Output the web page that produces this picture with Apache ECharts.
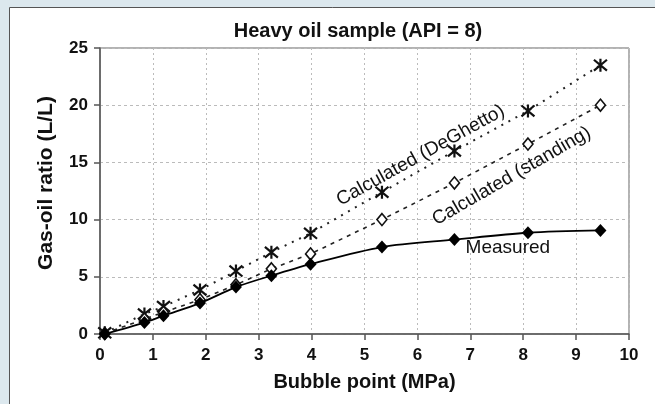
<!DOCTYPE html>
<html>
<head>
<meta charset="utf-8">
<script src="https://cdn.jsdelivr.net/npm/echarts@6/dist/echarts.min.js"></script>
<style>
html,body{margin:0;padding:0;background:#dce8ee;}
#chart{width:655px;height:404px;}
</style>
</head>
<body>
<div id="chart"></div>
<script>
// ---- data ----
const titleText = 'Heavy oil sample (API = 8)';
const xAxisName = 'Bubble point (MPa)';
const yAxisName = 'Gas-oil ratio (L/L)';
const xTicks = [0, 10, 1];   // min, max, interval
const yTicks = [0, 25, 5];

const measuredX = [0.09, 0.84, 1.2, 1.89, 2.57, 3.24, 3.98, 5.33, 6.70, 8.09, 9.46];
const measuredY = [0.0, 1.0, 1.6, 2.7, 4.1, 5.1, 6.1, 7.6, 8.25, 8.85, 9.05];

const standingX = [0.09, 0.84, 1.2, 1.89, 2.57, 3.24, 3.98, 5.33, 6.70, 8.09, 9.46];
const standingY = [0.05, 1.3, 1.9, 3.0, 4.3, 5.7, 7.0, 10.0, 13.2, 16.6, 20.0];

const deghettoX = [0.09, 0.84, 1.2, 1.89, 2.57, 3.24, 3.98, 5.33, 6.70, 8.09, 9.46];
const deghettoY = [0.1, 1.75, 2.4, 3.85, 5.5, 7.15, 8.8, 12.4, 16.0, 19.5, 23.5];

const labelTexts = ['Calculated (DeGhetto)', 'Calculated (standing)', 'Measured'];
const labelX = [6.06, 7.78, 7.71];
const labelY = [15.6, 13.8, 7.5];
const labelAngle = [29, 30, 0];

const FONT = '"Liberation Sans", Arial, Helvetica, sans-serif';
const zip = (a, b) => a.map((v, i) => [v, b[i]]);

const chart = echarts.init(document.getElementById('chart'), null, {renderer: 'canvas'});
const starPath = 'path://M0,0L10,10M10,0L0,10M5,-1L5,11';

const option = {
  backgroundColor: '#dce8ee',
  animation: false,
  title: {
    text: titleText,
    left: 353, top: 16, textAlign: 'center',
    textStyle: {fontFamily: FONT, fontWeight: 'bold', fontSize: 20, color: '#111'}
  },
  grid: {left: 100, right: 26, top: 48, bottom: 70, show: true, borderColor: '#666', borderWidth: 1, backgroundColor: '#fff'},
  xAxis: {
    type: 'value', min: xTicks[0], max: xTicks[1], interval: xTicks[2],
    name: xAxisName, nameLocation: 'middle', nameGap: 38,
    nameTextStyle: {fontFamily: FONT, fontWeight: 'bold', fontSize: 20, color: '#111'},
    axisLine: {lineStyle: {color: '#555', width: 1.5}},
    axisTick: {show: true, inside: false, length: 6, lineStyle: {color: '#555', width: 1.5}},
    axisLabel: {margin: 13, fontFamily: FONT, fontWeight: 'bold', fontSize: 17, color: '#111'},
    splitLine: {show: true, lineStyle: {color: '#bbb', type: [2, 3], width: 1}}
  },
  yAxis: {
    type: 'value', min: yTicks[0], max: yTicks[1], interval: yTicks[2],
    name: yAxisName, nameLocation: 'middle', nameGap: 43,
    nameTextStyle: {fontFamily: FONT, fontWeight: 'bold', fontSize: 21, color: '#111', padding: [0, 0, 0, 16]},
    axisLine: {show: true, lineStyle: {color: '#555', width: 1.5}},
    axisTick: {show: true, inside: false, length: 6, lineStyle: {color: '#555', width: 1.5}},
    axisLabel: {margin: 12, fontFamily: FONT, fontWeight: 'bold', fontSize: 17, color: '#111'},
    splitLine: {show: true, lineStyle: {color: '#bbb', type: [3, 3], width: 1}}
  },
  series: [
    {
      name: 'Calculated (DeGhetto)', type: 'line', data: zip(deghettoX, deghettoY),
      symbol: starPath, symbolSize: 13,
      itemStyle: {color: 'transparent', borderColor: '#111', borderWidth: 2.2},
      lineStyle: {color: '#222', width: 2, type: [2, 6]}, z: 3
    },
    {
      name: 'Calculated (standing)', type: 'line', data: zip(standingX, standingY),
      symbol: 'diamond', symbolSize: [10, 12],
      itemStyle: {color: '#fff', borderColor: '#111', borderWidth: 1.6},
      lineStyle: {color: '#222', width: 1.6, type: [4, 5]}, z: 4
    },
    {
      name: 'Measured', type: 'line', data: zip(measuredX, measuredY),
      smooth: 0.3,
      symbol: 'diamond', symbolSize: [12, 13],
      itemStyle: {color: '#000', borderColor: '#000', borderWidth: 0},
      lineStyle: {color: '#000', width: 1.8}, z: 5
    }
  ]
};
chart.setOption(option);

const graphics = [{
  type: 'rect', z: -10, silent: true,
  shape: {x: 9.5, y: 7.5, width: 700, height: 500},
  style: {fill: '#fff', stroke: '#555', lineWidth: 1}
}];
labelTexts.forEach((t, i) => {
  const p = chart.convertToPixel({gridIndex: 0}, [labelX[i], labelY[i]]);
  graphics.push({
    type: 'text', x: p[0], y: p[1], rotation: labelAngle[i] * Math.PI / 180, z: 10,
    style: {text: t, fontFamily: FONT, fontSize: 19, fill: '#111', align: 'center', verticalAlign: 'middle'}
  });
});
chart.setOption({graphic: graphics});
</script>
</body>
</html>
